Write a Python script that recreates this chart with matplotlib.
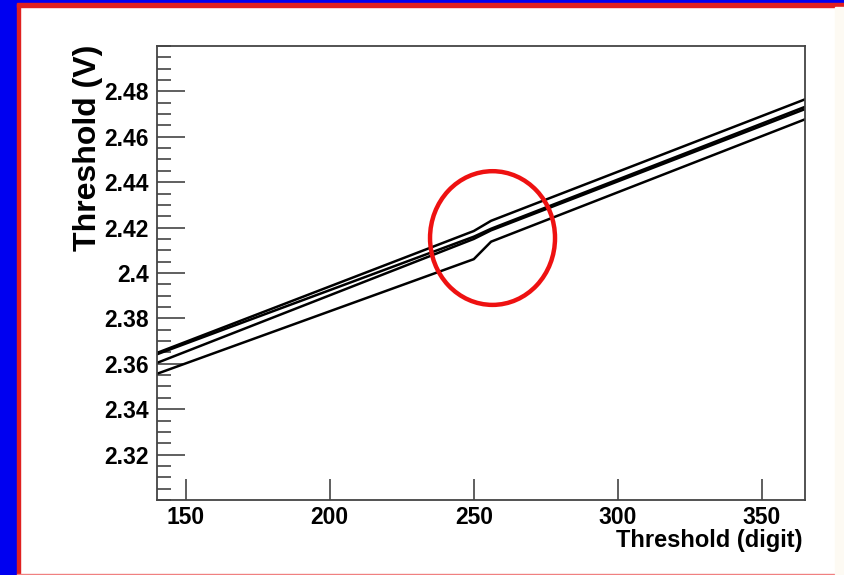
import matplotlib
matplotlib.use("Agg")
import matplotlib.pyplot as plt
import matplotlib.patches as mpatches
from matplotlib.ticker import MultipleLocator, FixedLocator, FixedFormatter

# threshold scan, four chips (the middle pair overlaps on the right)
thr_digit = [140, 250, 256, 365]
chip_a = [2.3648, 2.4185, 2.4230, 2.4765]
chip_b = [2.3642, 2.4160, 2.4195, 2.4732]
chip_c = [2.3604, 2.4150, 2.4188, 2.4722]
chip_d = [2.3556, 2.4061, 2.4138, 2.4677]

x_ticks = [150, 200, 250, 300, 350]
x_labels = ["150", "200", "250", "300", "350"]
y_ticks = [2.32, 2.34, 2.36, 2.38, 2.40, 2.42, 2.44, 2.46, 2.48]
y_labels = ["2.32", "2.34", "2.36", "2.38", "2.4", "2.42", "2.44", "2.46", "2.48"]

W, H = 844, 575
plt.rcParams["font.family"] = ["Liberation Sans", "DejaVu Sans"]

fig = plt.figure(figsize=(W / 100, H / 100), dpi=100, facecolor="white")

def px(x, y):
    return x / W, 1 - y / H

# ── frame around the slide ─────────────────────────────────────────────────
fig.patches.append(mpatches.Rectangle((0, 0), 17 / W, 1, transform=fig.transFigure,
                                      color="#0000f0", zorder=0))
fig.patches.append(mpatches.Rectangle((0, 1 - 3.5 / H), 1, 3.5 / H, transform=fig.transFigure,
                                      color="#0000f0", zorder=0))
fig.patches.append(mpatches.Rectangle((17 / W, 0), 2.5 / W, 1 - 3.5 / H, transform=fig.transFigure,
                                      color="#e02020", zorder=0))
fig.patches.append(mpatches.Rectangle((17 / W, 1 - 6.5 / H), 1, 3 / H, transform=fig.transFigure,
                                      color="#e02020", zorder=0))
fig.patches.append(mpatches.Rectangle((17 / W, 0), 1, 1.5 / H, transform=fig.transFigure,
                                      color="#f08080", zorder=0))
fig.patches.append(mpatches.Rectangle((835 / W, 1.5 / H), 9 / W, 1 - 8 / H, transform=fig.transFigure,
                                      color="#fdfaf3", zorder=0))

# ── plot ───────────────────────────────────────────────────────────────────
x0, x1 = px(157, 0)[0], px(805, 0)[0]
y0, y1 = px(0, 500)[1], px(0, 46)[1]
ax = fig.add_axes([x0, y0, x1 - x0, y1 - y0])

for vals in (chip_a, chip_b, chip_c, chip_d):
    ax.plot(thr_digit, vals, color="black", lw=1.8, solid_joinstyle="round")

ax.set_xlim(140, 365)
ax.set_ylim(2.30, 2.50)

ax.xaxis.set_major_locator(FixedLocator(x_ticks))
ax.xaxis.set_major_formatter(FixedFormatter(x_labels))
ax.yaxis.set_major_locator(FixedLocator(y_ticks))
ax.yaxis.set_major_formatter(FixedFormatter(y_labels))
ax.yaxis.set_minor_locator(MultipleLocator(0.005))

ax.tick_params(axis="both", which="both", direction="in", color="#444444",
               top=False, right=False)
ax.tick_params(axis="y", which="major", length=20, width=1.2, pad=6, labelsize=16.5)
ax.tick_params(axis="y", which="minor", length=10, width=1.2)
ax.tick_params(axis="x", which="major", length=15, width=1.2, pad=4, labelsize=16.5)
for lab in ax.get_xticklabels() + ax.get_yticklabels():
    lab.set_fontweight("bold")

for sp in ax.spines.values():
    sp.set_color("#444444")
    sp.set_linewidth(1.3)

# red circle marking the kink
ax.add_patch(mpatches.Ellipse((256.5, 2.4154), 43.4, 0.0589, fill=False,
                              edgecolor="#ee1111", lw=3.2, zorder=5, clip_on=False))

# axis titles, ROOT style (aligned to the axis ends)
fig.text(*px(88, 45), "Threshold (V)", rotation=90, ha="center", va="top",
         fontsize=23, fontweight="bold")
fig.text(*px(803, 529), "Threshold (digit)", ha="right", va="top",
         fontsize=17, fontweight="bold")

fig.savefig("out.png", dpi=100, facecolor="white")
